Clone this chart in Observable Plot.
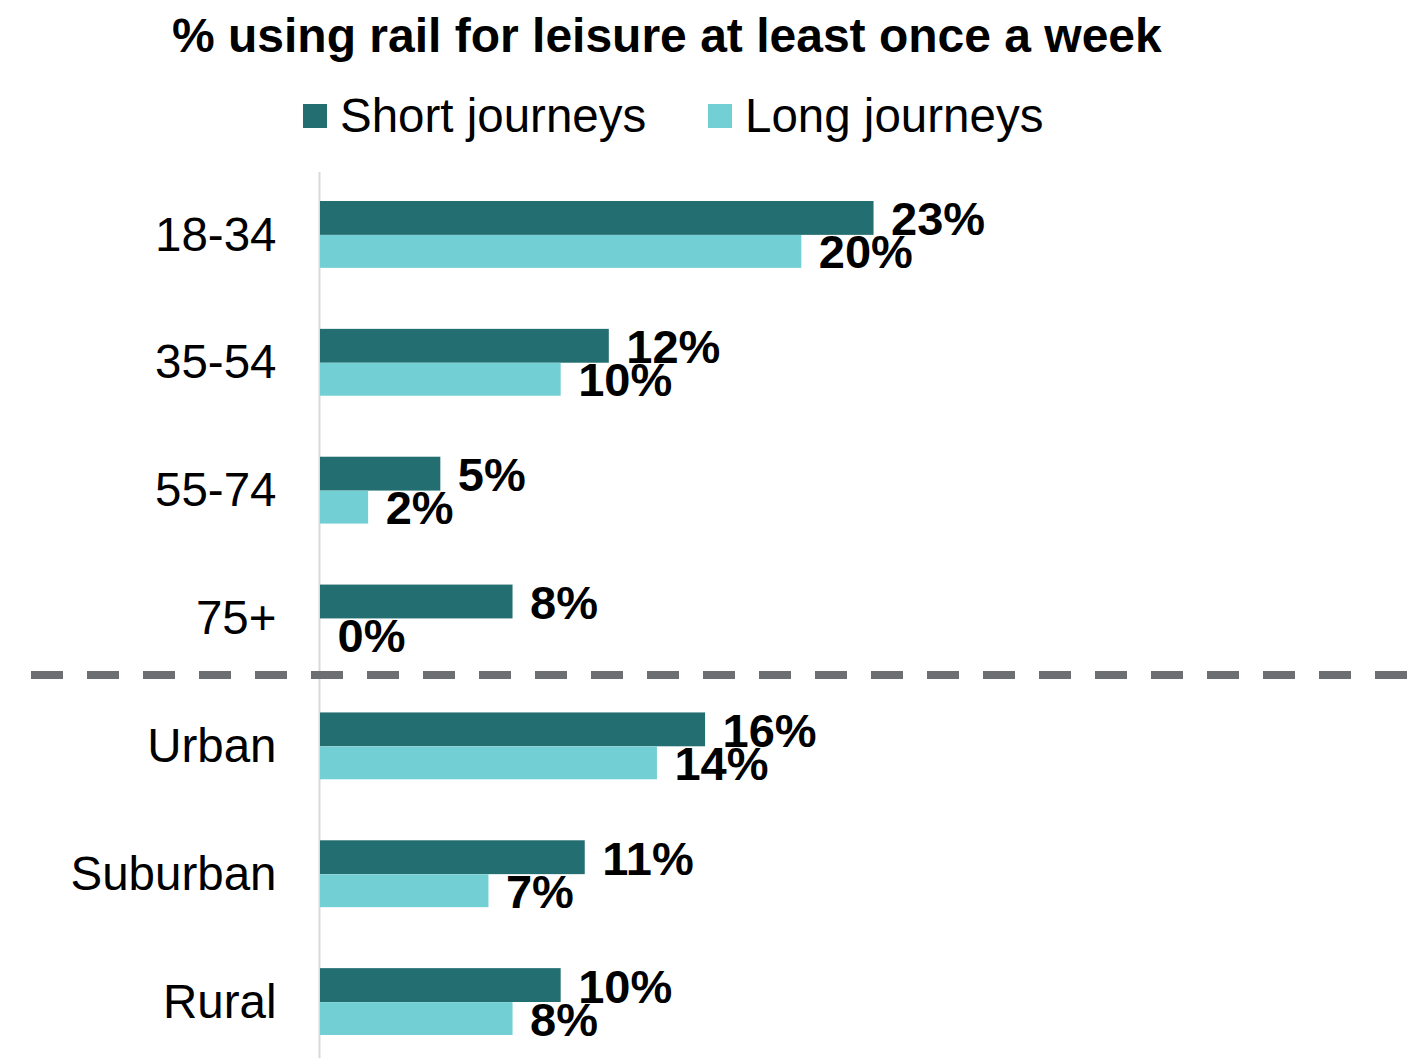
<!DOCTYPE html>
<html>
<head>
<meta charset="utf-8">
<script src="https://cdn.jsdelivr.net/npm/d3@7"></script>
<script src="https://cdn.jsdelivr.net/npm/@observablehq/plot@0.6"></script>
<style>
  html, body { margin: 0; padding: 0; background: #fff; overflow: hidden; }
  body { width: 1408px; height: 1058px; position: relative; font-family: "Liberation Sans", Arial, sans-serif; color: #000; }
  #title { position: absolute; left: 172px; top: 12px; font-size: 48px; line-height: 48px; font-weight: bold; white-space: nowrap; }
  #legend { position: absolute; left: 303px; top: 92px; height: 47px; white-space: nowrap; }
  .item { position: absolute; top: 0; font-size: 47.5px; line-height: 47px; }
  .sw { position: absolute; width: 24px; height: 24px; top: 12px; }
  #chart { position: absolute; left: 0; top: 172px; }
</style>
</head>
<body>
<div id="title"></div>
<div id="legend"></div>
<div id="chart"></div>
<script>
const titleText = "% using rail for leisure at least once a week";
const categories = ["18-34", "35-54", "55-74", "75+", "Urban", "Suburban", "Rural"];
const shortValues = [23, 12, 5, 8, 16, 11, 10];
const longValues = [20, 10, 2, 0, 14, 7, 8];
const seriesNames = ["Short journeys", "Long journeys"];
const seriesColors = ["#236E70", "#72CFD3"];
const separatorAfter = "75+";

document.getElementById("title").textContent = titleText;

// legend
const legend = document.getElementById("legend");
const legendOffsets = [0, 405];
seriesNames.forEach((name, i) => {
  const sw = document.createElement("div");
  sw.className = "sw";
  sw.style.left = legendOffsets[i] + "px";
  sw.style.background = seriesColors[i];
  legend.appendChild(sw);
  const t = document.createElement("div");
  t.className = "item";
  t.style.left = (legendOffsets[i] + 37) + "px";
  t.textContent = name;
  legend.appendChild(t);
});

const shortRows = categories.map((c, i) => ({category: c, series: seriesNames[0], value: shortValues[i]}));
const longRows = categories.map((c, i) => ({category: c, series: seriesNames[1], value: longValues[i]}));

const chart = Plot.plot({
  width: 1408,
  height: 886,
  marginLeft: 320,
  marginRight: 5,
  marginTop: 0,
  marginBottom: 0,
  style: {fontFamily: "'Liberation Sans', Arial, sans-serif", fontSize: "47.5px", color: "#000", background: "#fff", overflow: "visible"},
  x: {domain: [0, 45], axis: null},
  y: {domain: categories, range: [-1, 894], padding: 0, round: false, tickSize: 0, tickPadding: 44, label: null},
  color: {domain: seriesNames, range: seriesColors},
  marks: [
    Plot.ruleX([0], {stroke: "#d9d9d9", strokeWidth: 2, dx: -1}),
    Plot.barX(shortRows, {x: "value", y: "category", fill: "series", insetTop: 30, insetBottom: 64}),
    Plot.barX(longRows, {x: "value", y: "category", fill: "series", insetTop: 64, insetBottom: 31}),
    Plot.text(shortRows, {x: "value", y: "category", text: d => d.value + "%", dx: 17, dy: -15, textAnchor: "start", fontWeight: "bold", fontSize: 47, fill: "#000"}),
    Plot.text(longRows, {x: "value", y: "category", text: d => d.value + "%", dx: 17, dy: 18, textAnchor: "start", fontWeight: "bold", fontSize: 47, fill: "#000"}),
    Plot.ruleY([separatorAfter], {y: d => d, dy: 56, stroke: "#6d6e71", strokeWidth: 8, strokeDasharray: "32,24", insetLeft: -289, insetRight: -5})
  ]
});
document.getElementById("chart").appendChild(chart);
</script>
</body>
</html>
